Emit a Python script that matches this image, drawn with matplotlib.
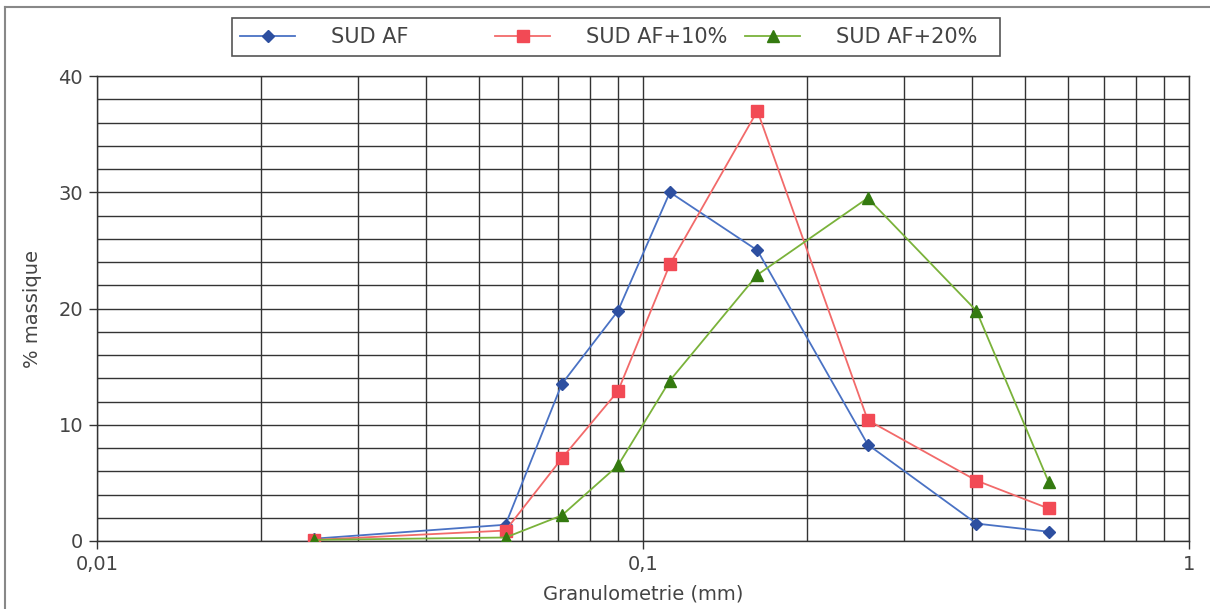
import numpy as np
import matplotlib
matplotlib.use("Agg")
import matplotlib.pyplot as plt
from matplotlib.lines import Line2D
from matplotlib.patches import Rectangle
from matplotlib.ticker import FixedLocator, FixedFormatter, MultipleLocator, NullFormatter

# granulometry (mm) and mass percentage per series
sizes = [0.025, 0.056, 0.071, 0.09, 0.112, 0.162, 0.258, 0.408, 0.553]
sud_af = [0.2, 1.4, 13.5, 19.8, 30.0, 25.0, 8.3, 1.5, 0.8]
sud_af_10 = [0.1, 0.9, 7.1, 12.9, 23.8, 37.0, 10.4, 5.2, 2.8]
sud_af_20 = [0.1, 0.3, 2.2, 6.5, 13.8, 22.9, 29.5, 19.8, 5.1]

labels = ["SUD AF", "SUD AF+10%", "SUD AF+20%"]
x_ticks = [0.01, 0.1, 1]
x_tick_labels = ["0,01", "0,1", "1"]
y_ticks = [0, 10, 20, 30, 40]

plt.rcParams["font.family"] = ["DejaVu Sans"]
text_color = "#444444"
W, H = 1210, 609

fig = plt.figure(figsize=(W / 100, H / 100), dpi=100)
ax = fig.add_axes([97 / W, 1 - 541 / H, (1189 - 97) / W, (541 - 76) / H])

l1, = ax.plot(sizes, sud_af, color="#4a72c4", lw=1.3, marker="D", ms=6.5,
              mfc="#2d4fa0", mec="#2d4fa0", label=labels[0], zorder=5)
l2, = ax.plot(sizes, sud_af_10, color="#f26a6a", lw=1.3, marker="s", ms=8.5,
              mfc="#f24a55", mec="#f24a55", label=labels[1], zorder=5)
l3, = ax.plot(sizes, sud_af_20, color="#7ab23a", lw=1.3, marker="^", ms=8.5,
              mfc="#347a10", mec="#347a10", label=labels[2], zorder=5)

ax.set_xscale("log")
ax.set_xlim(0.01, 1)
ax.set_ylim(0, 40)

ax.xaxis.set_major_locator(FixedLocator(x_ticks))
ax.xaxis.set_major_formatter(FixedFormatter(x_tick_labels))
ax.xaxis.set_minor_locator(FixedLocator(
    [m * d for d in (0.01, 0.1) for m in range(2, 10)]))
ax.xaxis.set_minor_formatter(NullFormatter())
ax.yaxis.set_major_locator(FixedLocator(y_ticks))
ax.yaxis.set_minor_locator(MultipleLocator(2))

ax.grid(which="both", color="#333333", lw=1.0)
ax.set_axisbelow(True)
ax.tick_params(which="major", direction="out", length=6, width=1,
               color="#333333", labelsize=14, labelcolor=text_color, pad=4)
ax.tick_params(which="minor", length=0)
for side in ["left", "bottom", "top", "right"]:
    ax.spines[side].set_color("#333333")
    ax.spines[side].set_linewidth(1.0)

ax.set_xlabel("Granulometrie (mm)", fontsize=14, color=text_color, labelpad=8)
ax.set_ylabel("% massique", fontsize=14, color=text_color, labelpad=12)

# legend: one frame, three equally spaced entries
fig.add_artist(Rectangle((232 / W, 1 - 56 / H), (1000 - 232) / W, 38 / H,
                         transform=fig.transFigure, fill=False,
                         edgecolor="#555555", lw=1.2))
for handle, x_px in zip([l1, l2, l3], [240, 495, 745]):
    fig.legend(handles=[handle], loc="center left",
               bbox_to_anchor=(x_px / W, 1 - 37 / H), frameon=False,
               fontsize=15, handlelength=2.65, handletextpad=1.7,
               borderpad=0, borderaxespad=0, labelcolor=text_color)

# outer chart border (top and left)
fig.add_artist(Line2D([0.004, 1], [1 - 7 / H, 1 - 7 / H],
                      transform=fig.transFigure, color="#888888", lw=1.5))
fig.add_artist(Line2D([5 / W, 5 / W], [0, 1 - 7 / H],
                      transform=fig.transFigure, color="#888888", lw=1.5))

fig.savefig("out.png", dpi=100)
